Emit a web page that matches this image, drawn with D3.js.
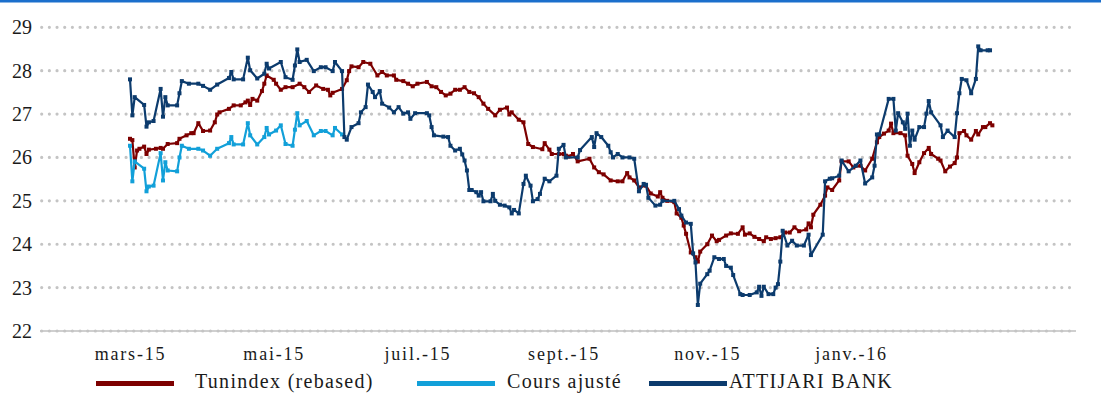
<!DOCTYPE html>
<html>
<head>
<meta charset="utf-8">
<script src="https://cdn.jsdelivr.net/npm/d3@7/dist/d3.min.js"></script>
<style>
  body { margin: 0; background: #fff; }
  svg { display: block; }
</style>
</head>
<body>
<figure id="chart" style="margin:0"></figure>
<script>
// day offsets from 1 March 2015, one array per series
const startDate = new Date(2015, 2, 1);

const tunDays = [0,1,2,3,4,6,7,8,11,13,14,16,20,21,24,26,27,29,31,34,36,37,38,42,44,47,49,50,51,52,54,56,57,58,61,62,64,66,69,72,74,76,79,82,84,85,86,90,92,93,94,97,99,102,105,107,109,112,113,116,118,120,122,126,128,130,132,134,136,138,140,142,144,146,148,150,152,155,157,160,161,162,165,167,169,171,175,176,178,179,182,184,185,186,188,190,195,197,199,201,204,207,209,211,212,214,216,219,221,224,225,226,228,231,232,234,235,236,238,240,241,242,245,247,249,250,253,255,258,260,261,263,265,267,269,270,272,274,276,278,280,282,284,287,288,289,290,293,295,296,298,301,302,305,307,310,312,315,317,318,320,322,323,324,327,329,330,332,333,335,337,339,340,343,344,346,348,350,351,352,354,355,357,359,360,362,363,365,366];
const tunValues = [26.43,26.40,25.77,26.16,26.20,26.25,26.08,26.18,26.20,26.22,26.20,26.31,26.33,26.43,26.51,26.56,26.56,26.79,26.61,26.62,26.81,26.99,27.04,27.12,27.20,27.20,27.27,27.31,27.21,27.35,27.31,27.53,27.70,27.89,27.79,27.70,27.56,27.62,27.62,27.70,27.62,27.51,27.66,27.58,27.56,27.43,27.49,27.58,27.78,27.99,28.10,28.08,28.20,28.16,27.89,27.97,27.89,27.89,27.79,27.76,27.70,27.64,27.70,27.74,27.64,27.62,27.51,27.43,27.47,27.56,27.56,27.62,27.51,27.48,27.39,27.24,27.12,26.97,27.10,27.15,26.99,27.04,26.87,26.81,26.31,26.24,26.19,26.33,26.18,26.08,26.08,26.08,26.04,26.02,26.08,25.91,25.97,25.77,25.66,25.61,25.47,25.45,25.45,25.64,25.54,25.47,25.31,25.35,25.17,25.10,25.20,25.07,25.00,24.97,24.71,24.61,24.43,24.24,23.81,23.70,23.60,23.83,24.00,24.20,24.07,24.10,24.20,24.25,24.24,24.39,24.22,24.25,24.17,24.12,24.07,24.16,24.12,24.14,24.16,24.27,24.27,24.39,24.30,24.34,24.48,24.39,24.68,24.91,25.12,25.31,25.25,25.47,25.91,25.91,25.77,25.81,25.70,25.97,26.35,26.47,26.55,26.62,26.78,26.56,26.56,26.51,26.04,25.85,25.64,25.89,26.10,26.22,26.08,25.97,25.93,25.68,25.79,25.87,26.00,26.56,26.61,26.51,26.41,26.61,26.53,26.70,26.70,26.79,26.74];

const adjDays = [0,1,2,6,7,8,10,13,14,15,16,20,21,22,25,29,31,34,37,42,43,44,48,50,51,54,57,58,59,62,64,66,69,70,71,72,75,78,81,83,86,87,90];
const adjValues = [26.27,25.45,25.91,25.74,25.22,25.33,25.35,26.10,25.47,25.89,25.70,25.68,26.00,26.27,26.20,26.20,26.16,26.04,26.20,26.33,26.47,26.30,26.30,26.79,26.51,26.30,26.47,26.68,26.53,26.62,26.74,26.31,26.27,26.64,27.02,26.74,26.84,26.51,26.61,26.61,26.51,26.68,26.53];

const attDays = [0,1,2,6,7,8,10,13,14,15,16,20,21,22,25,29,31,34,37,42,43,44,48,50,51,54,57,58,59,64,66,69,70,71,72,75,78,81,83,86,87,90,91,92,94,97,98,100,101,103,104,106,107,110,112,114,116,118,119,121,126,127,128,129,133,135,136,138,140,141,142,143,144,145,147,148,149,150,153,154,155,157,159,161,162,163,165,167,168,170,171,173,174,176,178,181,182,184,185,190,191,196,197,198,200,203,204,205,207,209,212,214,216,218,219,220,223,225,226,231,233,234,236,238,239,240,241,242,245,246,248,250,252,253,255,256,259,260,263,266,267,268,269,271,273,274,275,276,277,279,281,283,286,288,289,294,295,297,298,301,302,305,308,310,312,315,316,317,318,322,324,325,326,328,329,330,331,332,333,335,337,338,339,340,344,345,347,350,351,352,353,355,357,359,360,361,364,365];
const attValues = [27.80,26.97,27.39,27.21,26.71,26.81,26.84,27.58,26.94,27.39,27.20,27.20,27.48,27.76,27.70,27.70,27.65,27.56,27.68,27.83,27.97,27.80,27.80,28.30,28.01,27.82,27.93,28.16,28.05,28.20,27.85,27.79,28.12,28.49,28.20,28.25,27.99,28.08,28.08,27.99,28.20,27.99,26.47,26.41,26.70,26.79,27.04,27.16,27.68,27.51,27.39,27.53,27.24,27.15,27.04,27.16,27.01,27.04,26.89,27.02,27.02,26.97,26.70,26.51,26.48,26.47,26.27,26.16,26.20,26.07,25.93,25.70,25.25,25.25,25.20,25.12,25.20,24.99,24.99,25.16,25.00,24.91,24.89,24.85,24.71,24.79,24.71,25.39,25.58,25.35,24.99,25.04,25.16,25.51,25.45,25.58,26.20,26.29,26.00,26.00,26.17,26.47,26.24,26.56,26.47,26.27,26.12,26.00,26.08,26.00,26.00,25.97,25.22,25.39,25.37,25.07,24.89,24.91,25.00,25.00,24.81,24.66,24.50,24.47,23.79,23.58,22.60,23.09,23.31,23.39,23.70,23.66,23.66,23.50,23.46,23.29,22.85,22.83,22.83,22.89,23.02,22.81,23.02,22.85,22.85,23.00,23.08,23.60,24.31,23.97,24.08,23.97,23.97,24.22,23.75,24.22,25.45,25.51,25.52,25.58,25.93,25.68,25.81,25.93,25.40,25.54,25.81,26.53,26.53,27.35,27.35,26.62,27.02,26.81,26.66,27.01,26.27,26.62,26.41,26.70,26.70,27.01,27.30,27.04,26.74,26.47,26.62,26.47,27.02,27.48,27.81,27.78,27.48,27.81,28.56,28.47,28.47,28.47];

const seriesNames = ["Tunindex (rebased)", "Cours ajusté", "ATTIJARI BANK"];
const seriesColors = ["#7d0000", "#12a0d9", "#0c3b6d"];
const yTicks = [22, 23, 24, 25, 26, 27, 28, 29];
const tickDates = ["2015-03-01", "2015-05-01", "2015-07-01", "2015-09-01", "2015-11-01", "2016-01-01"];
const tickLabels = ["mars-15", "mai-15", "juil.-15", "sept.-15", "nov.-15", "janv.-16"];

const width = 1101, height = 414;
const serif = '"Liberation Serif"';
const parse = d3.timeParse("%Y-%m-%d");

const svg = d3.select("#chart").append("svg")
  .attr("width", width)
  .attr("height", height);

// thin blue band along the top edge
svg.append("rect").attr("x", 0).attr("y", 0).attr("width", width).attr("height", 2.5).attr("fill", "#1b6fcc");

const x = d3.scaleTime()
  .domain([parse("2015-03-01"), parse("2016-01-01")])
  .range([130, 851]);
const y = d3.scaleLinear().domain([22, 29]).range([331, 27.3]);

// dotted gridlines
const grid = svg.append("g");
grid.append("line")
  .attr("x1", 40).attr("x2", 1076)
  .attr("y1", y(22)).attr("y2", y(22))
  .attr("stroke", "#cfcfcf").attr("stroke-width", 2);
grid.selectAll(".g").data(yTicks).enter().append("line")
  .attr("x1", 41.7).attr("x2", 1074)
  .attr("y1", d => y(d)).attr("y2", d => y(d))
  .attr("stroke", "#c4c4c4")
  .attr("stroke-width", 3.2)
  .attr("stroke-linecap", "round")
  .attr("stroke-dasharray", "0 7.67");

// y axis labels
const yAxis = svg.append("g")
  .attr("transform", "translate(32,0)")
  .call(d3.axisLeft(y).tickValues(yTicks).tickSize(0).tickPadding(0).tickFormat(d3.format("d")));
yAxis.attr("font-family", null).attr("font-size", null);
yAxis.select(".domain").remove();
yAxis.selectAll("text")
  .style("font-family", serif)
  .style("font-size", "20px")
  .style("fill", "#1a1a1a");

// x axis labels
const xAxis = svg.append("g")
  .attr("transform", "translate(0,360)")
  .call(d3.axisBottom(x).tickValues(tickDates.map(parse)).tickSize(0)
    .tickFormat((d, i) => tickLabels[i]));
xAxis.attr("font-family", null).attr("font-size", null);
xAxis.select(".domain").remove();
xAxis.selectAll("text")
  .attr("y", 0).attr("dy", null)
  .style("font-family", serif)
  .style("font-size", "18px")
  .style("letter-spacing", "1.8px")
  .style("fill", "#1a1a1a");

// series
const series = [
  { days: tunDays, values: tunValues },
  { days: adjDays, values: adjValues },
  { days: attDays, values: attValues }
].map((s, i) => ({
  name: seriesNames[i],
  color: seriesColors[i],
  points: s.days.map((d, j) => ({ date: d3.timeDay.offset(startDate, d), value: s.values[j] }))
}));

const line = d3.line().x(d => x(d.date)).y(d => y(d.value));

series.forEach(s => {
  const g = svg.append("g");
  g.append("path")
    .datum(s.points)
    .attr("d", line)
    .attr("fill", "none")
    .attr("stroke", s.color)
    .attr("stroke-width", 2.2)
    .attr("stroke-linejoin", "round");
  g.selectAll("rect").data(s.points).enter().append("rect")
    .attr("x", d => x(d.date) - 2)
    .attr("y", d => y(d.value) - 2)
    .attr("width", 4).attr("height", 4)
    .attr("fill", s.color);
});

// legend
const legendX = [96, 417, 649];
const legendTextX = [195, 507, 729];
const legend = svg.append("g");
series.forEach((s, i) => {
  legend.append("rect")
    .attr("x", legendX[i]).attr("y", 381)
    .attr("width", 78).attr("height", 5)
    .attr("fill", s.color);
  legend.append("text")
    .attr("x", legendTextX[i]).attr("y", 388)
    .style("font-family", serif)
    .style("font-size", "20px")
    .style("letter-spacing", "1.3px")
    .style("fill", "#1a1a1a")
    .text(s.name);
});
</script>
</body>
</html>
